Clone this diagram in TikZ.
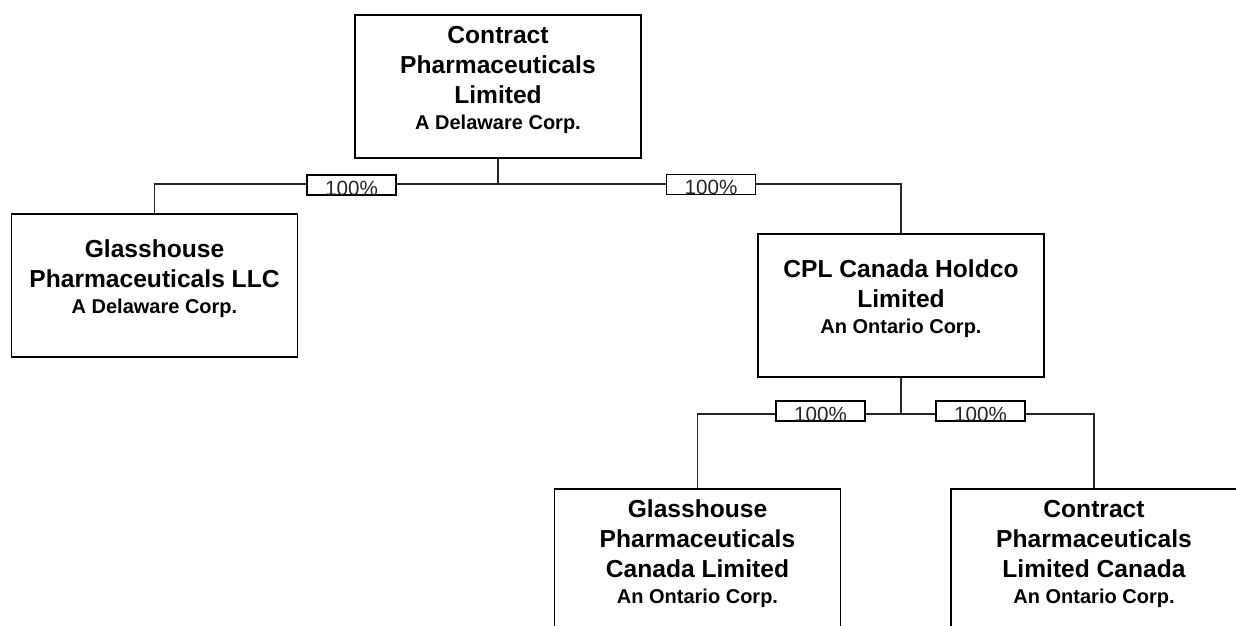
\documentclass[tikz,border=0pt]{standalone}
\usepackage{fontspec}
\setmainfont{Liberation Sans}
\usetikzlibrary{positioning}

\newcommand{\entity}[2]{\parbox[c][71.5pt][c]{143pt}{\centering
  \fontsize{12.3}{15}\selectfont\bfseries #1\par
  \fontsize{10}{13}\selectfont #2\par\vspace{7pt}}}

\begin{document}
\begin{tikzpicture}
    [x=0.5pt,y=-0.5pt,
    company/.style={rectangle,draw=black,line width=0.75pt,fill=white,
      inner sep=0pt,minimum width=143pt,minimum height=71.5pt},
    share/.style={rectangle,draw=black,line width=0.6pt,fill=white,
      inner sep=0pt,minimum width=44.5pt,minimum height=10pt,
      text height=10pt,text depth=0pt,text=black!85,
      font=\fontsize{10.3}{10}\selectfont},
    link/.style={draw=black!85,line width=0.6pt}]

    \clip (0,0) rectangle (1236,626);

    \node (cpl)      at ( 498,  86.5) [company] {\entity{Contract\\Pharmaceuticals\\Limited}{A Delaware Corp.}};

    \node (glassllc) at ( 154.5,285.5) [company] {\entity{Glasshouse\\Pharmaceuticals LLC}{A Delaware Corp.}};

    \node (holdco)   at ( 901, 305.5) [company] {\entity{CPL Canada Holdco\\Limited}{An Ontario Corp.}};

    \node (gpcl)     at ( 697.5,560.5) [company] {\entity{Glasshouse\\Pharmaceuticals\\Canada Limited}{An Ontario Corp.}};

    \node (cplc)     at (1094, 560.5) [company] {\entity{Contract\\Pharmaceuticals\\Limited Canada}{An Ontario Corp.}};

    \coordinate (split top)    at (498,184);
    \coordinate (split canada) at (901,414);

    \draw [link] (cpl.south) -- (split top);
    \draw [link] (split top) -| (glassllc.north);
    \draw [link] (split top) -| (holdco.north);

    \draw [link] (holdco.south) -- (split canada);
    \draw [link] (split canada) -| (gpcl.north);
    \draw [link] (split canada) -| (cplc.north);

    \node (share llc)    at (351.5,185) [share] {100\%};
    \node (share holdco) at (711,184.5) [share] {100\%};
    \node (share gpcl)   at (820.5,411) [share] {100\%};
    \node (share cplc)   at (980.5,411) [share] {100\%};

  \end{tikzpicture}
\end{document}
